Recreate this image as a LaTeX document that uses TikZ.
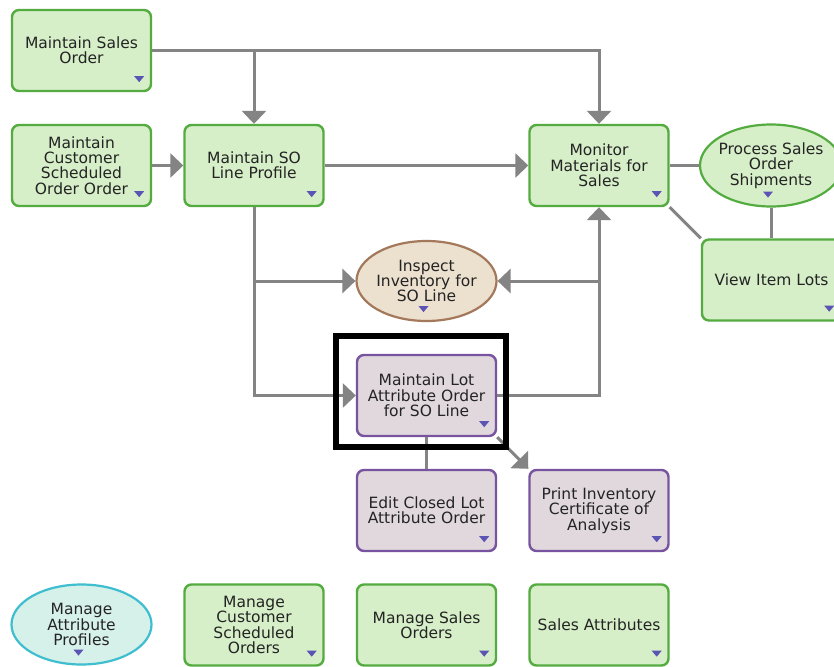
\documentclass[tikz,border=0pt]{standalone}
\usepackage{fontspec}
\setmainfont{DejaVu Sans}
\usetikzlibrary{arrows.meta,shapes.geometric,calc}

\definecolor{gfill}{RGB}{214,239,200}
\definecolor{gline}{RGB}{84,172,64}
\definecolor{pfill}{RGB}{224,216,220}
\definecolor{pline}{RGB}{120,84,160}
\definecolor{bfill}{RGB}{236,224,206}
\definecolor{bline}{RGB}{164,120,90}
\definecolor{cfill}{RGB}{214,240,234}
\definecolor{cline}{RGB}{62,190,206}
\definecolor{wirecol}{RGB}{132,132,132}
\definecolor{mkcol}{RGB}{92,84,180}
\definecolor{txt}{RGB}{36,36,36}

% small drop-down marker in the lower right corner of a task box
\newcommand{\boxmark}[1]{\fill[mkcol] ($(#1.south east)+(-18,-16)$) -- ++(10,0) -- ++(-5,6) -- cycle;}
% the same marker under the text of an oval
\newcommand{\ovalmark}[1]{\fill[mkcol] ($(#1.south)+(-8,-16)$) -- ++(10,0) -- ++(-5,6) -- cycle;}

\begin{document}
\begin{tikzpicture}[x=1pt,y=-1pt,
  every node/.style={font=\fontsize{15.5pt}{15.3pt}\selectfont, text=txt, align=center},
  task/.style={draw=gline, fill=gfill, line width=2.4pt, rounded corners=7pt,
    minimum width=139pt, minimum height=81pt, inner sep=0pt},
  lottask/.style={task, draw=pline, fill=pfill},
  oval/.style={ellipse, draw=gline, fill=gfill, line width=2.2pt,
    minimum width=140pt, minimum height=80pt, inner xsep=-25pt, inner ysep=-15pt},
  wire/.style={draw=wirecol, line width=3pt},
  flow/.style={wire, -{Triangle[length=13pt,width=24pt]}},
]
\fill[white] (0,0) rectangle (834,666);
\useasboundingbox (0,0) rectangle (834,666);
\clip (0,0) rectangle (834,666);

% task boxes and ovals
\node[task] (mso) at (81.5,50.5) {Maintain Sales\\Order};
\node[task] (mcso) at (81.5,165.5) {Maintain\\Customer\\Scheduled\\Order Order};
\node[task] (msolp) at (254,165.5) {Maintain SO\\Line Profile};
\node[task] (mms) at (599,165.5) {Monitor\\Materials for\\Sales};
\node[oval, minimum width=142pt, minimum height=82pt] (psos) at (771,165.5) {Process Sales\\Order\\Shipments};
\node[task] (vil) at (771.5,280) {View Item Lots};
\node[oval, draw=bline, fill=bfill] (iiso) at (426.5,281) {Inspect\\Inventory for\\SO Line};
\node[lottask] (lot) at (426.5,395.5) {Maintain Lot\\Attribute Order\\for SO Line};
\node[lottask] (ecl) at (426.5,510.5) {Edit Closed Lot\\Attribute Order};
\node[lottask] (pic) at (599,510.5) {Print Inventory\\Certificate of\\Analysis};
\node[oval, draw=cline, fill=cfill] (map) at (81.5,624.5) {Manage\\Attribute\\Profiles};
\node[task] (mcsos) at (254,625) {Manage\\Customer\\Scheduled\\Orders};
\node[task] (msos) at (426.5,625) {Manage Sales\\Orders};
\node[task] (sa) at (599,625) {Sales Attributes};

% markers
\foreach \n in {mso,mcso,msolp,mms,vil,lot,ecl,pic,mcsos,msos,sa} {\boxmark{\n}}
\foreach \n in {psos,iiso,map} {\ovalmark{\n}}

% connectors
\draw[flow] (mso.east) -| (mms.north);
\draw[flow] (mso.east -| msolp.north) -- (msolp.north);
\draw[flow] (mcso) -- (msolp);
\draw[flow] (msolp) -- (mms);
\draw[wire] (mms.east) -- (psos.west);
\draw[wire] (mms.south east) -- (vil.north west);
\draw[wire] (psos.south) -- (psos.south |- vil.north);
\draw[flow] (msolp.south) |- (lot.west);
\draw[flow] (msolp.south |- iiso.west) -- (iiso.west);
\draw[flow] (lot.east) -| (mms.south);
\draw[flow] (mms.south |- iiso.east) -- (iiso.east);
\draw[wire] (lot.south) -- (ecl.north);
\draw[flow] (lot.south east) -- (pic.north west);

% highlight frame around the current task
\draw[line width=6pt] (336,336) rectangle (506,447);
\end{tikzpicture}
\end{document}
